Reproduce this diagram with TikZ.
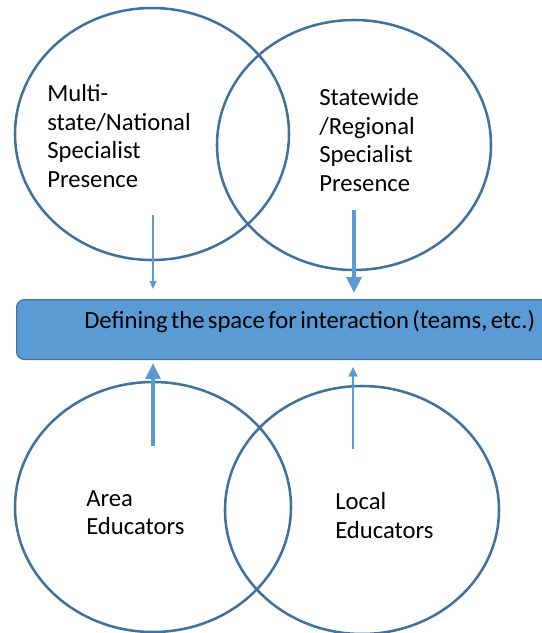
\documentclass[tikz,border=0pt]{standalone}
\usepackage{fontspec}
\setmainfont{Carlito}
\newfontfamily\barfont[WordSpace=0.6]{Carlito}
\usetikzlibrary{arrows.meta}
\definecolor{ringblue}{HTML}{41719C}
\definecolor{barblue}{HTML}{5B9BD5}

\begin{document}
\begin{tikzpicture}[x=0.75pt,y=0.75pt,yscale=-1,
	ring/.style={draw=ringblue, line width=1.9pt},
	circletext/.style={anchor=north west, inner sep=0pt, align=left, font=\fontsize{18.5}{21.5}\selectfont},
	lightarrow/.style={draw=barblue, line width=1.1pt, -{Triangle[length=6pt,width=5pt]}},
	heavyarrow/.style={draw=barblue, line width=3.4pt, -{Triangle[length=12pt,width=11pt]}}]
	\useasboundingbox (0,0) rectangle (542,633);
	
	%Shape: Ellipse [id:multistate] 
	\draw [ring] (152,134) ellipse (137 and 126);
	%Shape: Ellipse [id:statewide] 
	\draw [ring] (354,145) ellipse (137 and 125);
	%Shape: Ellipse [id:area] 
	\draw [ring] (153,507) ellipse (138 and 125);
	%Shape: Ellipse [id:local] 
	\draw [ring] (362,510) ellipse (137 and 124);
	
	%Shape: Rectangle [id:bar] 
	\node (bar) [anchor=north west, fill=barblue, draw=ringblue, line width=0.8pt, rounded corners=6pt, minimum width=408pt, minimum height=45pt, inner sep=0pt] at (16,299) {};
	
	% Text Node
	\node (multitext) [circletext] at (47,84) {Multi-\\state/National\\Specialist\\Presence};
	% Text Node
	\node (statetext) [circletext] at (319,88) {Statewide\\/Regional\\Specialist\\Presence};
	% Text Node
	\node (areatext) [circletext] at (86,490) {Area\\Educators};
	% Text Node
	\node (localtext) [circletext] at (335,492) {Local\\Educators};
	% Text Node
	\node (bartext) [anchor=base west, inner sep=0pt, font=\barfont\fontsize{18.5}{22}\selectfont] at (84,328) {Defining the space for interaction (teams, etc.)};
	
	%Arrows
	\coordinate (multitail) at (153,215);
	\coordinate (statetail) at (354,210);
	\coordinate (areatail) at (153,446);
	\coordinate (localtail) at (353,449);
	\draw [lightarrow, shorten >=7.5pt] (multitail) -- (multitail |- bar.north);
	\draw [heavyarrow, shorten >=4.5pt] (statetail) -- (statetail |- bar.north);
	\draw [heavyarrow, shorten >=2.2pt] (areatail) -- (areatail |- bar.south);
	\draw [lightarrow, line width=1.8pt, -{Triangle[length=7.5pt,width=6.5pt]}, shorten >=5pt] (localtail) -- (localtail |- bar.south);
\end{tikzpicture}
\end{document}
